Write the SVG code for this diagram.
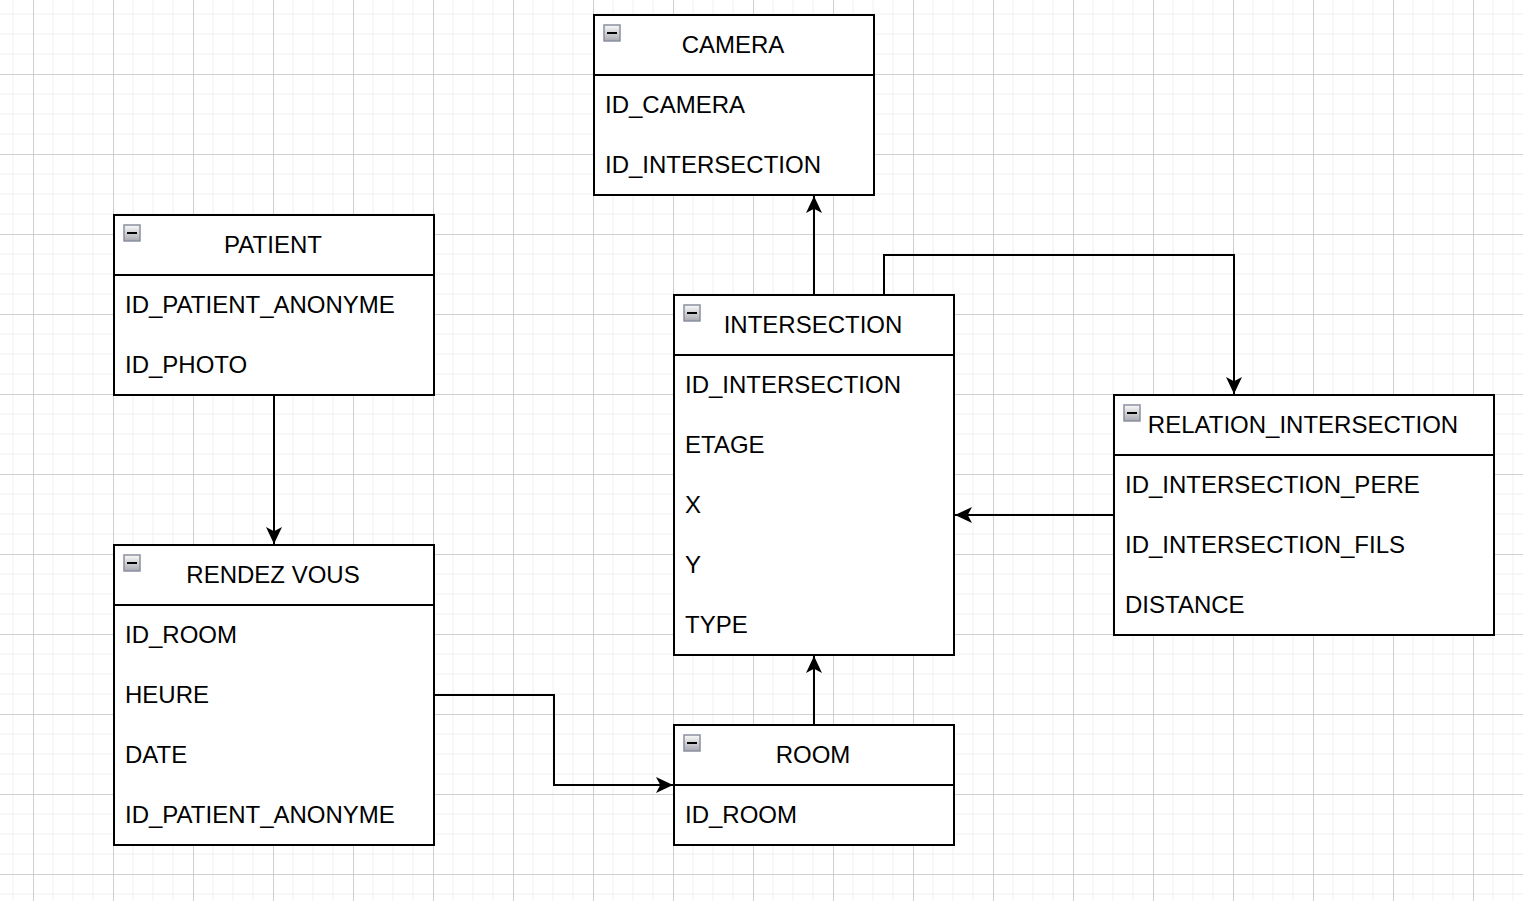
<svg xmlns="http://www.w3.org/2000/svg" width="1523" height="901" viewBox="0 0 1523 901">
<defs>
<pattern id="grid" patternUnits="userSpaceOnUse" x="-47" y="-6" width="80" height="80">
<path d="M20,0V80M40,0V80M60,0V80M0,20H80M0,40H80M0,60H80" stroke="#f0f0f0" stroke-width="1" fill="none"/>
<path d="M0.5,0V80M0,0.5H80" stroke="#d0d0d0" stroke-width="1" fill="none"/>
</pattern>
<linearGradient id="ig" x1="0" y1="0" x2="0" y2="1">
<stop offset="0" stop-color="#fafafa"/>
<stop offset="1" stop-color="#a8a8b0"/>
</linearGradient>
<marker id="arr" markerUnits="userSpaceOnUse" viewBox="0 0 17 16" refX="17" refY="8" markerWidth="17" markerHeight="16" orient="auto">
<path d="M0,0 L17,8 L0,16 L4.25,8 Z" fill="#000"/>
</marker>
</defs>
<style>
.box{fill:#fff;stroke:#000;stroke-width:2}
.div{stroke:#000;stroke-width:2;fill:none}
.ic{fill:url(#ig);stroke:#8a90a0;stroke-width:1.5}
.mn{stroke:#000;stroke-width:2}
text{font-family:"Liberation Sans",Arial,sans-serif;font-size:24px;fill:#000}
.h{text-anchor:middle}
.con{fill:none;stroke:#000;stroke-width:2;marker-end:url(#arr)}
</style>
<rect width="1523" height="901" fill="#fff"/>
<rect width="1523" height="901" fill="url(#grid)"/>

<g id="camera">
<rect class="box" x="594" y="15" width="280" height="180"/>
<line class="div" x1="594" y1="75" x2="874" y2="75"/>
<rect class="ic" x="604" y="25" width="16" height="16"/>
<line class="mn" x1="607" y1="33" x2="617" y2="33"/>
<text class="h" x="733" y="52.5">CAMERA</text>
<text x="605" y="112.5">ID_CAMERA</text>
<text x="605" y="172.5">ID_INTERSECTION</text>
</g>

<g id="patient">
<rect class="box" x="114" y="215" width="320" height="180"/>
<line class="div" x1="114" y1="275" x2="434" y2="275"/>
<rect class="ic" x="124" y="225" width="16" height="16"/>
<line class="mn" x1="127" y1="233" x2="137" y2="233"/>
<text class="h" x="273" y="252.5">PATIENT</text>
<text x="125" y="312.5">ID_PATIENT_ANONYME</text>
<text x="125" y="372.5">ID_PHOTO</text>
</g>

<g id="rendezvous">
<rect class="box" x="114" y="545" width="320" height="300"/>
<line class="div" x1="114" y1="605" x2="434" y2="605"/>
<rect class="ic" x="124" y="555" width="16" height="16"/>
<line class="mn" x1="127" y1="563" x2="137" y2="563"/>
<text class="h" x="273" y="582.5">RENDEZ VOUS</text>
<text x="125" y="642.5">ID_ROOM</text>
<text x="125" y="702.5">HEURE</text>
<text x="125" y="762.5">DATE</text>
<text x="125" y="822.5">ID_PATIENT_ANONYME</text>
</g>

<g id="intersection">
<rect class="box" x="674" y="295" width="280" height="360"/>
<line class="div" x1="674" y1="355" x2="954" y2="355"/>
<rect class="ic" x="684" y="305" width="16" height="16"/>
<line class="mn" x1="687" y1="313" x2="697" y2="313"/>
<text class="h" x="813" y="332.5">INTERSECTION</text>
<text x="685" y="392.5">ID_INTERSECTION</text>
<text x="685" y="452.5">ETAGE</text>
<text x="685" y="512.5">X</text>
<text x="685" y="572.5">Y</text>
<text x="685" y="632.5">TYPE</text>
</g>

<g id="relation_intersection">
<rect class="box" x="1114" y="395" width="380" height="240"/>
<line class="div" x1="1114" y1="455" x2="1494" y2="455"/>
<rect class="ic" x="1124" y="405" width="16" height="16"/>
<line class="mn" x1="1127" y1="413" x2="1137" y2="413"/>
<text class="h" x="1303" y="432.5">RELATION_INTERSECTION</text>
<text x="1125" y="492.5">ID_INTERSECTION_PERE</text>
<text x="1125" y="552.5">ID_INTERSECTION_FILS</text>
<text x="1125" y="612.5">DISTANCE</text>
</g>

<g id="room">
<rect class="box" x="674" y="725" width="280" height="120"/>
<line class="div" x1="674" y1="785" x2="954" y2="785"/>
<rect class="ic" x="684" y="735" width="16" height="16"/>
<line class="mn" x1="687" y1="743" x2="697" y2="743"/>
<text class="h" x="813" y="762.5">ROOM</text>
<text x="685" y="822.5">ID_ROOM</text>
</g>

<g id="connectors">
<path class="con" d="M274,396 V544"/>
<path class="con" d="M814,294 V196"/>
<path class="con" d="M884,294 V255 H1234 V394"/>
<path class="con" d="M1113,515 H955"/>
<path class="con" d="M814,724 V656"/>
<path class="con" d="M435,695 H554 V785 H673"/>
</g>
</svg>
